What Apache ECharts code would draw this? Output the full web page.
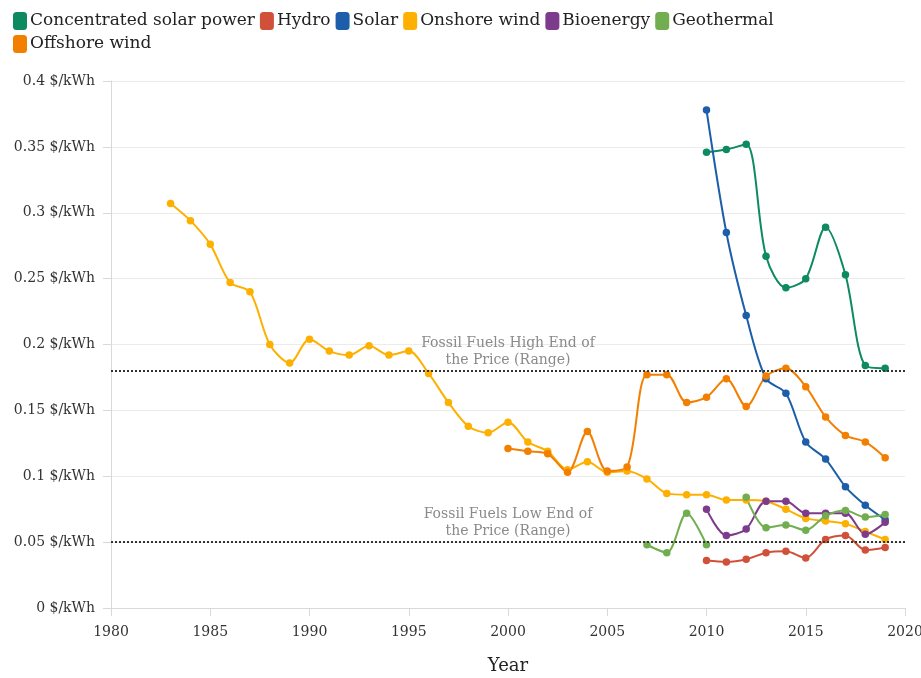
<!DOCTYPE html>
<html>
<head>
<meta charset="utf-8">
<script src="https://cdn.jsdelivr.net/npm/echarts@6/dist/echarts.min.js"></script>
<style>
  html, body { margin: 0; padding: 0; background: #fff; }
  #chart { width: 921px; height: 678px; }
</style>
</head>
<body>
<div id="chart"></div>
<script>
  // values, $/kWh
  var cspYears = [2010, 2011, 2012, 2013, 2014, 2015, 2016, 2017, 2018, 2019];
  var cspValues = [0.346, 0.348, 0.352, 0.267, 0.243, 0.250, 0.289, 0.253, 0.184, 0.182];

  var hydroYears = [2010, 2011, 2012, 2013, 2014, 2015, 2016, 2017, 2018, 2019];
  var hydroValues = [0.036, 0.035, 0.037, 0.042, 0.043, 0.038, 0.052, 0.055, 0.044, 0.046];

  var solarYears = [2010, 2011, 2012, 2013, 2014, 2015, 2016, 2017, 2018, 2019];
  var solarValues = [0.378, 0.285, 0.222, 0.174, 0.163, 0.126, 0.113, 0.092, 0.078, 0.067];

  var onshoreYears = [1983, 1984, 1985, 1986, 1987, 1988, 1989, 1990, 1991, 1992, 1993, 1994, 1995,
    1996, 1997, 1998, 1999, 2000, 2001, 2002, 2003, 2004, 2005, 2006, 2007, 2008, 2009, 2010,
    2011, 2012, 2013, 2014, 2015, 2016, 2017, 2018, 2019];
  var onshoreValues = [0.307, 0.294, 0.276, 0.247, 0.240, 0.200, 0.186, 0.204, 0.195, 0.192, 0.199, 0.192, 0.195,
    0.178, 0.156, 0.138, 0.133, 0.141, 0.126, 0.119, 0.105, 0.111, 0.103, 0.104, 0.098, 0.087, 0.086, 0.086,
    0.082, 0.082, 0.081, 0.075, 0.068, 0.066, 0.064, 0.058, 0.052];

  var bioYears = [2010, 2011, 2012, 2013, 2014, 2015, 2016, 2017, 2018, 2019];
  var bioValues = [0.075, 0.055, 0.060, 0.081, 0.081, 0.072, 0.072, 0.072, 0.056, 0.065];

  var geoYears = [2007, 2008, 2009, 2010, 2011, 2012, 2013, 2014, 2015, 2016, 2017, 2018, 2019];
  var geoValues = [0.048, 0.042, 0.072, 0.048, null, 0.084, 0.061, 0.063, 0.059, 0.070, 0.074, 0.069, 0.071];

  var offshoreYears = [2000, 2001, 2002, 2003, 2004, 2005, 2006, 2007, 2008, 2009, 2010, 2011, 2012,
    2013, 2014, 2015, 2016, 2017, 2018, 2019];
  var offshoreValues = [0.121, 0.119, 0.117, 0.103, 0.134, 0.104, 0.107, 0.177, 0.177, 0.156, 0.160, 0.174, 0.153,
    0.176, 0.182, 0.168, 0.145, 0.131, 0.126, 0.114];

  var fossilHigh = 0.18;
  var fossilLow = 0.05;

  var font = 'DejaVu Serif';

  function pairs(years, values) {
    return years.map(function (y, i) { return [y, values[i]]; });
  }

  function line(name, color, years, values) {
    return {
      name: name,
      type: 'line',
      smooth: 0.3,
      symbol: 'circle',
      symbolSize: 7.5,
      connectNulls: false,
      itemStyle: { color: color },
      lineStyle: { color: color, width: 2 },
      data: pairs(years, values)
    };
  }

  var series = [
    line('Concentrated solar power', '#0d8a60', cspYears, cspValues),
    line('Hydro', '#d1503a', hydroYears, hydroValues),
    line('Solar', '#1c5eaa', solarYears, solarValues),
    line('Onshore wind', '#fdb000', onshoreYears, onshoreValues),
    line('Bioenergy', '#7d3b8b', bioYears, bioValues),
    line('Geothermal', '#72ae50', geoYears, geoValues),
    line('Offshore wind', '#f27f00', offshoreYears, offshoreValues)
  ];

  // dotted reference lines with their notes
  series[0].markLine = {
    silent: true,
    symbol: 'none',
    lineStyle: { color: '#333', type: 'dotted', width: 2 },
    label: {
      position: 'insideMiddleTop',
      distance: 2,
      color: '#8a8a8a',
      fontFamily: font,
      fontSize: 14,
      lineHeight: 17,
      align: 'center'
    },
    data: [
      { yAxis: fossilHigh, label: { formatter: 'Fossil Fuels High End of\nthe Price (Range)' } },
      { yAxis: fossilLow, label: { formatter: 'Fossil Fuels Low End of\nthe Price (Range)' } }
    ]
  };

  var chart = echarts.init(document.getElementById('chart'));
  chart.setOption({
    animation: false,
    textStyle: { fontFamily: font },
    legend: {
      left: 8,
      top: 7,
      width: 800,
      icon: 'roundRect',
      itemWidth: 14,
      itemHeight: 18,
      itemGap: 5,
      textStyle: { fontFamily: font, fontSize: 17, color: '#222', padding: [0, 0, 0, -2] },
      data: series.map(function (s) { return s.name; })
    },
    grid: { left: 111, right: 16, top: 81, bottom: 70, outerBoundsMode: 'none' },
    xAxis: {
      type: 'value',
      min: 1980,
      max: 2020,
      interval: 5,
      name: 'Year',
      nameLocation: 'middle',
      nameGap: 49,
      nameTextStyle: { fontFamily: font, fontSize: 18, color: '#222' },
      axisLine: { show: true, lineStyle: { color: '#d9d9d9' } },
      axisTick: { show: true, length: 8, lineStyle: { color: '#d9d9d9' } },
      axisLabel: {
        fontFamily: font,
        fontSize: 14,
        color: '#333',
        margin: 17,
        formatter: function (v) { return String(v); }
      },
      splitLine: { show: false }
    },
    yAxis: {
      type: 'value',
      min: 0,
      max: 0.4,
      interval: 0.05,
      axisLine: { show: true, lineStyle: { color: '#d9d9d9' } },
      axisTick: { show: true, length: 8, lineStyle: { color: '#d9d9d9' } },
      axisLabel: {
        fontFamily: font,
        fontSize: 14,
        color: '#333',
        margin: 16,
        formatter: function (v) { return v + ' $/kWh'; }
      },
      splitLine: { lineStyle: { color: '#ebebeb' } }
    },
    series: series
  });
</script>
</body>
</html>
